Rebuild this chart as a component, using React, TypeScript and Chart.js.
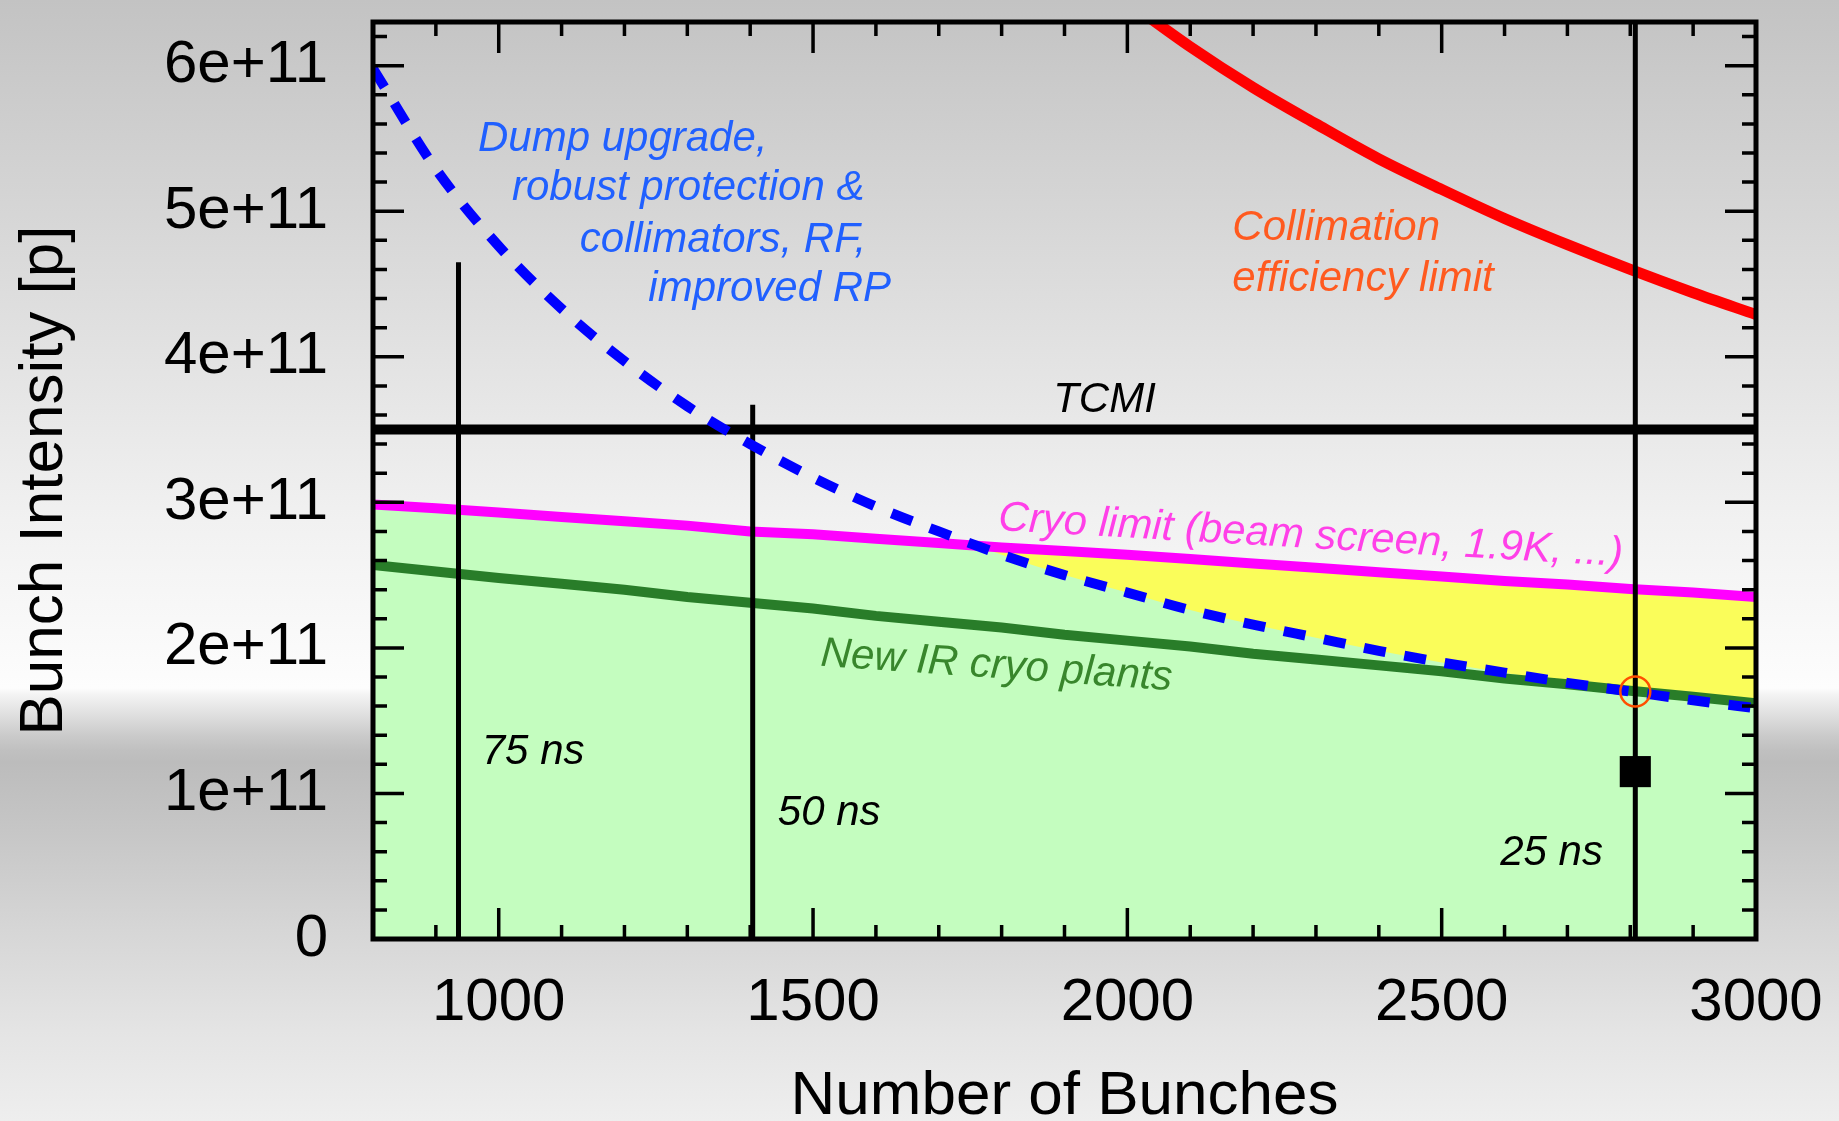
import { useEffect, useRef } from 'react';
import { Chart, registerables } from 'chart.js';

Chart.register(...registerables);

// ---------- data (intensities in units of 1e11 protons) ----------
const bunchGrid = [800, 900, 1000, 1100, 1200, 1300, 1400, 1500, 1600, 1700, 1800, 1900, 2000, 2100, 2200, 2300, 2400, 2500, 2600, 2700, 2800, 2900, 3000];
const dumpUpgradeLimit = [5.98, 5.29, 4.76, 4.33, 3.97, 3.66, 3.40, 3.17, 2.97, 2.80, 2.64, 2.50, 2.38, 2.26, 2.16, 2.07, 1.98, 1.90, 1.83, 1.76, 1.70, 1.64, 1.585];
const cryoLimit = [2.985, 2.96, 2.93, 2.90, 2.87, 2.84, 2.80, 2.78, 2.75, 2.72, 2.69, 2.665, 2.64, 2.61, 2.58, 2.55, 2.52, 2.49, 2.46, 2.435, 2.405, 2.38, 2.35];
const irCryoPlants = [2.57, 2.525, 2.48, 2.44, 2.40, 2.35, 2.31, 2.27, 2.22, 2.18, 2.14, 2.09, 2.05, 2.01, 1.96, 1.92, 1.88, 1.84, 1.79, 1.75, 1.705, 1.665, 1.62];

const collimationBunches = [2000, 2100, 2200, 2300, 2400, 2500, 2600, 2700, 2800, 2900, 3000];
const collimationLimit = [6.44, 6.13, 5.85, 5.60, 5.36, 5.15, 4.95, 4.77, 4.60, 4.44, 4.29];

const spacingBunches = [936, 1404, 2808];
const spacingLineTops = [4.65, 3.67, 6.3];
const tcmiLevel = 3.5;
const tcmiRange = [800, 3000];

const achievedBunches = [2808];
const achievedIntensity = [1.15];
const targetBunches = [2808];
const targetIntensity = [1.70];

const xTickValues = [1000, 1500, 2000, 2500, 3000];
const xTickLabels = ['1000', '1500', '2000', '2500', '3000'];
const xMinorTicks = [900, 1100, 1200, 1300, 1400, 1600, 1700, 1800, 1900, 2100, 2200, 2300, 2400, 2600, 2700, 2800, 2900];
const yTickValues = [0, 1, 2, 3, 4, 5, 6];
const yTickLabels = ['0', '1e+11', '2e+11', '3e+11', '4e+11', '5e+11', '6e+11'];
const yMinorTicks = [0.2, 0.4, 0.6, 0.8, 1.2, 1.4, 1.6, 1.8, 2.2, 2.4, 2.6, 2.8, 3.2, 3.4, 3.6, 3.8, 4.2, 4.4, 4.6, 4.8, 5.2, 5.4, 5.6, 5.8, 6.2];

const E11 = 1e11;
const FONT = '"Liberation Sans", Arial, Helvetica, sans-serif';

// annotation texts anchored in data space (bunches, intensity/1e11), baseline-left
const annotations = [
  { text: 'Dump upgrade,', x: 967, y: 5.415, color: '#2060ff', rot: 0 },
  { text: 'robust protection &', x: 1021, y: 5.08, color: '#2060ff', rot: 0 },
  { text: 'collimators, RF,', x: 1129, y: 4.72, color: '#2060ff', rot: 0 },
  { text: 'improved RP', x: 1238, y: 4.38, color: '#2060ff', rot: 0 },
  { text: 'Collimation', x: 2167, y: 4.80, color: '#ff5a1f', rot: 0 },
  { text: 'efficiency limit', x: 2167, y: 4.45, color: '#ff5a1f', rot: 0 },
  { text: 'TCMI', x: 1882, y: 3.62, color: '#000000', rot: 0 },
  { text: 'Cryo limit (beam screen, 1.9K, ...)', x: 1794, y: 2.81, color: '#ff40e8', rot: 3.3 },
  { text: 'New IR cryo plants', x: 1511, y: 1.878, color: '#38862c', rot: 4.0 },
  { text: '75 ns', x: 973, y: 1.204, color: '#000000', rot: 0 },
  { text: '50 ns', x: 1444, y: 0.782, color: '#000000', rot: 0 },
  { text: '25 ns', x: 2593, y: 0.51, color: '#000000', rot: 0 },
];

const LIGHT_GREEN = '#c4fdbf';
const YELLOW = '#fafd5a';

const pts = (xs: number[], ys: number[]) => xs.map((x, i) => ({ x, y: ys[i] * E11 }));

const framePlugin = {
  id: 'frameAndTicks',
  afterDatasetsDraw(chart: any) {
    const { ctx, chartArea } = chart;
    const xs = chart.scales.x;
    const ys = chart.scales.y;
    const { left, right, top, bottom } = chartArea;
    ctx.save();
    ctx.strokeStyle = '#000';
    ctx.lineCap = 'butt';
    ctx.lineWidth = 3.5;
    const major = 31;
    const minor = 14;
    const drawX = (v: number, len: number) => {
      const px = xs.getPixelForValue(v);
      ctx.beginPath();
      ctx.moveTo(px, bottom);
      ctx.lineTo(px, bottom - len);
      ctx.moveTo(px, top);
      ctx.lineTo(px, top + len);
      ctx.stroke();
    };
    const drawY = (v: number, len: number) => {
      const py = ys.getPixelForValue(v);
      ctx.beginPath();
      ctx.moveTo(left, py);
      ctx.lineTo(left + len, py);
      ctx.moveTo(right, py);
      ctx.lineTo(right - len, py);
      ctx.stroke();
    };
    xTickValues.forEach((v) => drawX(v, major));
    xMinorTicks.forEach((v) => drawX(v, minor));
    yTickValues.forEach((v) => drawY(v * E11, major));
    yMinorTicks.forEach((v) => drawY(v * E11, minor));
    ctx.lineWidth = 5;
    ctx.strokeRect(left, top, right - left, bottom - top);

    // annotations
    annotations.forEach((a) => {
      const px = xs.getPixelForValue(a.x);
      const py = ys.getPixelForValue(a.y * E11);
      ctx.save();
      ctx.translate(px, py);
      ctx.rotate((a.rot * Math.PI) / 180);
      ctx.font = `italic 42px ${FONT}`;
      ctx.fillStyle = a.color;
      ctx.textAlign = 'left';
      ctx.textBaseline = 'alphabetic';
      ctx.fillText(a.text, 0, 0);
      ctx.restore();
    });
    ctx.restore();
  },
};

export default function App() {
  const canvasRef = useRef<HTMLCanvasElement | null>(null);

  useEffect(() => {
    const canvas = canvasRef.current;
    if (!canvas) return;

    const lineBase = { pointRadius: 0, fill: false, tension: 0, clip: 0, borderCapStyle: 'butt' as const };
    const curved = { cubicInterpolationMode: 'monotone' as const };

    const verticals = spacingBunches.map((b, i) => ({
      ...lineBase,
      data: [{ x: b, y: 0 }, { x: b, y: spacingLineTops[i] * E11 }],
      borderColor: '#000',
      borderWidth: 5,
    }));

    const datasets: any[] = [
      // 0: achieved point
      {
        data: pts(achievedBunches, achievedIntensity),
        showLine: false,
        pointStyle: 'rect',
        pointRadius: 22,
        pointBackgroundColor: '#000',
        pointBorderColor: '#000',
        pointBorderWidth: 0,
        clip: 0,
      },
      // 1: target circle
      {
        data: pts(targetBunches, targetIntensity),
        showLine: false,
        pointStyle: 'circle',
        pointRadius: 15,
        pointBackgroundColor: 'rgba(0,0,0,0)',
        pointBorderColor: '#ff4f00',
        pointBorderWidth: 2.5,
        clip: 0,
      },
      // 2: dump upgrade (blue dashed)
      {
        ...lineBase,
        ...curved,
        data: pts(bunchGrid, dumpUpgradeLimit),
        borderColor: '#0000ff',
        borderWidth: 10,
        borderDash: [22, 19],
      },
      // 3: TCMI
      {
        ...lineBase,
        data: tcmiRange.map((x) => ({ x, y: tcmiLevel * E11 })),
        borderColor: '#000',
        borderWidth: 10,
      },
      // 4-6: bunch spacing verticals
      ...verticals,
      // 7: collimation limit
      {
        ...lineBase,
        ...curved,
        data: pts(collimationBunches, collimationLimit),
        borderColor: '#ff0000',
        borderWidth: 11,
      },
      // 8: new IR cryo plants
      {
        ...lineBase,
        data: pts(bunchGrid, irCryoPlants),
        borderColor: '#297d29',
        borderWidth: 10,
      },
      // 9: cryo limit
      {
        ...lineBase,
        data: pts(bunchGrid, cryoLimit),
        borderColor: '#ff00ff',
        borderWidth: 10,
      },
      // 10: fill under IR cryo plants
      {
        ...lineBase,
        data: pts(bunchGrid, irCryoPlants),
        borderWidth: 0,
        borderColor: 'rgba(0,0,0,0)',
        fill: 'origin',
        backgroundColor: LIGHT_GREEN,
      },
      // 11: yellow band between dump limit and cryo limit
      {
        ...lineBase,
        ...curved,
        data: pts(bunchGrid, dumpUpgradeLimit),
        borderWidth: 0,
        borderColor: 'rgba(0,0,0,0)',
        fill: { target: 12, above: 'rgba(0,0,0,0)', below: YELLOW },
      },
      // 12: fill under cryo limit
      {
        ...lineBase,
        data: pts(bunchGrid, cryoLimit),
        borderWidth: 0,
        borderColor: 'rgba(0,0,0,0)',
        fill: 'origin',
        backgroundColor: LIGHT_GREEN,
      },
    ];

    const chart = new Chart(canvas, {
      type: 'line',
      data: { datasets },
      plugins: [framePlugin],
      options: {
        responsive: false,
        animation: false,
        devicePixelRatio: 1,
        events: [],
        layout: { padding: { left: 0, top: 13, right: 83, bottom: 0 } },
        plugins: {
          legend: { display: false },
          tooltip: { enabled: false },
        },
        scales: {
          x: {
            type: 'linear',
            position: 'bottom',
            min: 800,
            max: 3000,
            grid: { display: false, drawTicks: false },
            border: { display: false },
            afterBuildTicks: (s: any) => {
              s.ticks = xTickValues.map((value) => ({ value }));
            },
            afterFit: (s: any) => {
              s.height = 221;
              s.paddingLeft = 0;
              s.paddingRight = 0;
            },
            ticks: {
              padding: 28,
              autoSkip: false,
              maxRotation: 0,
              minRotation: 0,
              color: '#000',
              font: { family: FONT, size: 60, lineHeight: 1.2 },
              callback: (v: any) => {
                const i = xTickValues.indexOf(Number(v));
                return i >= 0 ? xTickLabels[i] : '';
              },
            },
            title: {
              display: true,
              text: 'Number of Bunches',
              color: '#000',
              font: { family: FONT, size: 62, lineHeight: 1.2 },
              padding: { top: 0, bottom: 26 },
            },
          },
          y: {
            type: 'linear',
            min: 0,
            max: 6.3 * E11,
            grid: { display: false, drawTicks: false },
            border: { display: false },
            afterBuildTicks: (s: any) => {
              s.ticks = yTickValues.map((v) => ({ value: v * E11 }));
            },
            afterFit: (s: any) => {
              s.width = 373;
              s.paddingTop = 0;
              s.paddingBottom = 0;
            },
            ticks: {
              padding: 45,
              autoSkip: false,
              color: '#000',
              font: { family: FONT, size: 60, lineHeight: 1.2 },
              callback: (v: any) => {
                const i = yTickValues.findIndex((t) => Math.abs(t * E11 - Number(v)) < 1e6);
                return i >= 0 ? yTickLabels[i] : '';
              },
            },
            title: {
              display: true,
              text: 'Bunch Intensity [p]',
              color: '#000',
              font: { family: FONT, size: 62, lineHeight: 1.2 },
              padding: { top: 8, bottom: 0 },
            },
          },
        },
      } as any,
    });

    return () => chart.destroy();
  }, []);

  return (
    <div
      style={{
        position: 'fixed',
        left: 0,
        top: 0,
        width: 1839,
        height: 1121,
        overflow: 'hidden',
        background:
          'linear-gradient(to bottom, #c3c3c3 0px, #e2e2e2 350px, #f1f1f1 520px, #fdfdfd 688px, #f4f4f4 694px, #e6e6e6 708px, #d8d8d8 722px, #cacaca 736px, #c0c0c0 750px, #bcbcbc 762px, #c6c6c6 830px, #d6d6d6 930px, #e4e4e4 1030px, #eeeeee 1121px)',
      }}
    >
      <canvas ref={canvasRef} width={1839} height={1160} style={{ display: 'block', width: 1839, height: 1160 }} />
    </div>
  );
}
